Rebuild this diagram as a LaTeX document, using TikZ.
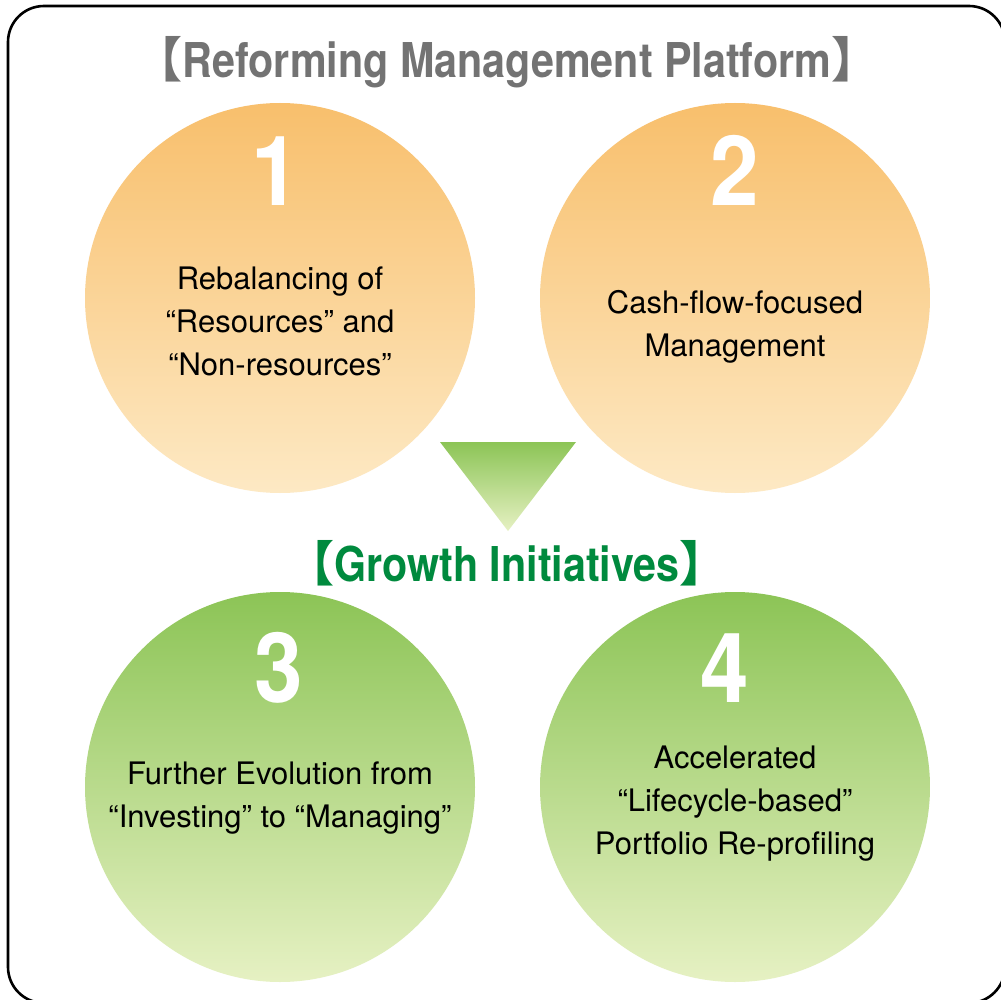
\documentclass[tikz,border=0pt]{standalone}
\usepackage{fontspec}
\setmainfont{TeX Gyre Heros}
\newfontfamily\headfont[FakeStretch=0.86]{TeX Gyre Heros}
\newfontfamily\digitfont[FakeStretch=0.9]{TeX Gyre Heros}
\newfontfamily\cjkfont{Noto Sans CJK JP}

\definecolor{orTop}{HTML}{F8BF6C}
\definecolor{orBot}{HTML}{FDE9C4}
\definecolor{grTop}{HTML}{8CC456}
\definecolor{grBot}{HTML}{E6F1C3}
\definecolor{headGray}{HTML}{737373}
\definecolor{headGreen}{HTML}{008A3E}

\tikzset{
  bubble/.style={circle, minimum size=390pt, inner sep=0pt, draw=none},
  orangeball/.style={bubble, top color=orTop, bottom color=orBot},
  greenball/.style={bubble, top color=grTop, bottom color=grBot},
  numtxt/.style={anchor=base, inner sep=0pt, text=white,
    font=\fontsize{97}{97}\selectfont\digitfont\bfseries},
  body/.style={align=center, inner sep=0pt, text=black,
    font=\fontsize{31}{43}\selectfont},
  heading/.style={anchor=base, inner sep=0pt,
    font=\fontsize{48}{48}\selectfont\headfont\bfseries},
}

\begin{document}
\begin{tikzpicture}[x=1pt,y=-1pt]
  \useasboundingbox (0,0) rectangle (1001,1000);
  \fill[white] (0,0) rectangle (1001,1000);

  % outer frame
  \draw[line width=2.6pt, rounded corners=36pt] (8,6) rectangle (1005,1003);

  % heading: management platform
  \node[heading, text=headGray] (hplat) at (507,78)
    {{\cjkfont 【}Reforming Management Platform{\cjkfont 】}};

  % the four circles
  \node[orangeball] (c1) at (280,298) {};
  \node[orangeball] (c2) at (735,298) {};
  \node[greenball]  (c3) at (280,787) {};
  \node[greenball]  (c4) at (735,787) {};

  % arrow triangle between the two groups
  \shade[top color=grTop, bottom color=grBot]
    (440,442) -- (576,442) -- (508,531) -- cycle;

  % heading: growth initiatives
  \node[heading, text=headGreen] (hgrow) at (507,581)
    {{\cjkfont 【}Growth Initiatives{\cjkfont 】}};

  % numbers
  \node[numtxt] (n1) at (276,206) {1};
  \node[numtxt] (n2) at (735,206) {2};
  \node[numtxt] (n3) at (279,702) {3};
  \node[numtxt] (n4) at (725,702) {4};

  % captions
  \node[body] (t1) at (280,321)
    {Rebalancing of\\“Resources” and\\“Non-resources”};
  \node[body] (t2) at (735,327)
    {Cash-flow-focused\\Management};
  \node[body] (t3) at (280,798)
    {Further Evolution from\\“Investing” to “Managing”};
  \node[body] (t4) at (735,804)
    {Accelerated\\“Lifecycle-based”\\Portfolio Re-profiling};
\end{tikzpicture}
\end{document}
